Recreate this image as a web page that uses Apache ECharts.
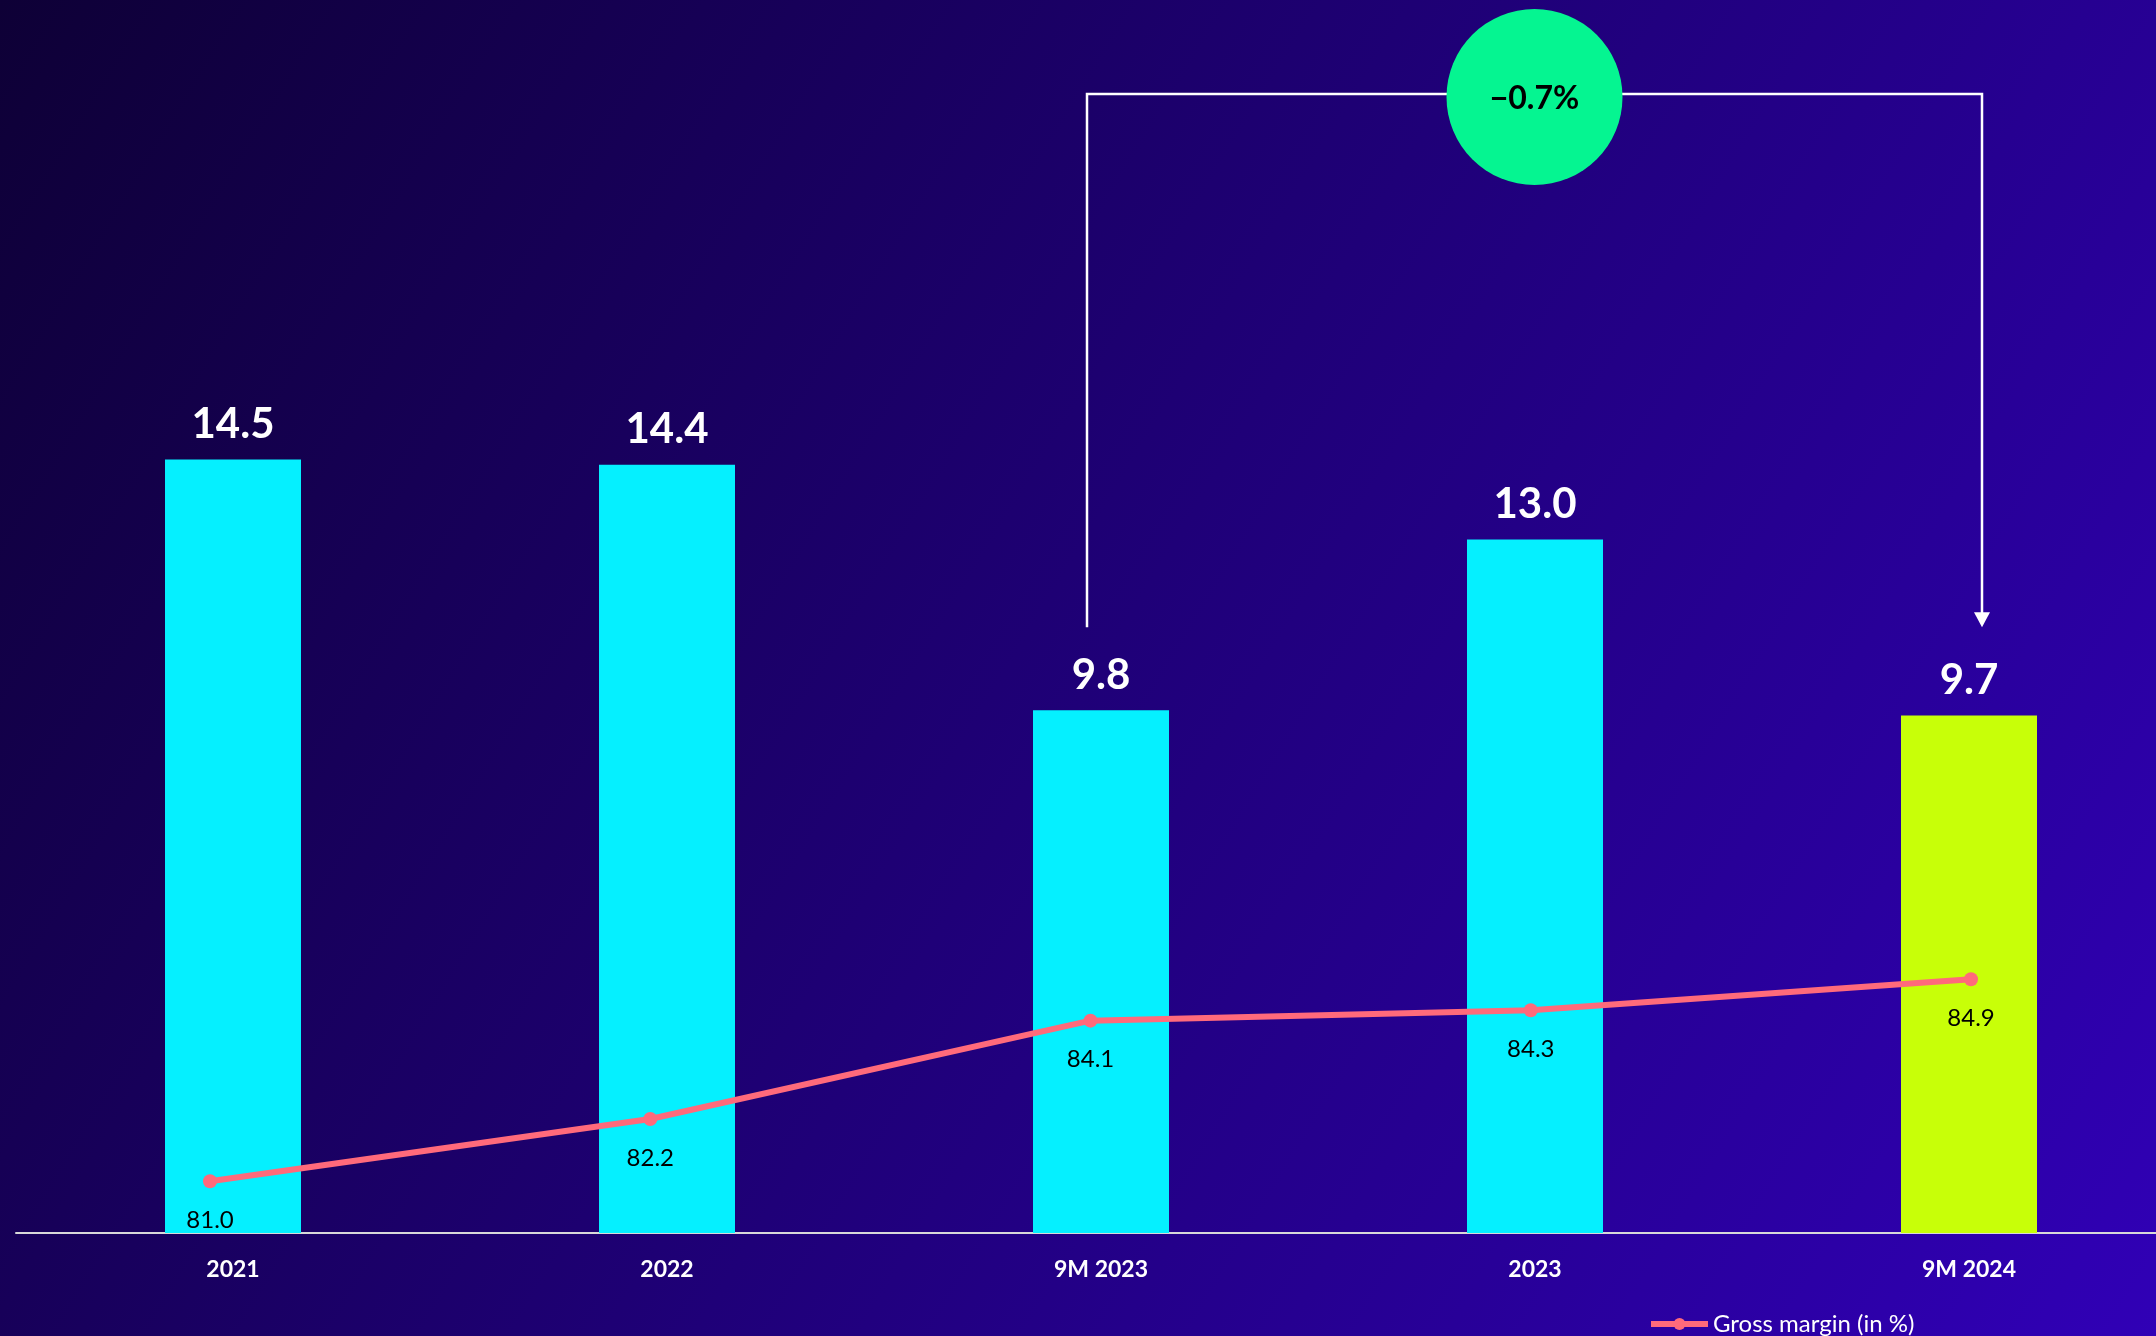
<!DOCTYPE html>
<html>
<head>
<meta charset="utf-8">
<script src="https://cdn.jsdelivr.net/npm/echarts@6/dist/echarts.min.js"></script>
<style>
  html, body { margin: 0; padding: 0; background: #17005a; overflow: hidden; }
  #chart { width: 2200px; height: 1336px; }
</style>
</head>
<body>
<div id="chart"></div>
<script>
// Periods shown on the category axis
const periods = ['2021', '2022', '9M 2023', '2023', '9M 2024'];
// Revenue per period (bars)
const revenue = [14.5, 14.4, 9.8, 13.0, 9.7];
// Gross margin in percent (line)
const grossMargin = [81.0, 82.2, 84.1, 84.3, 84.9];
// Change between the two nine-month periods
const changeLabel = '\u22120.7%';
const lineName = 'Gross margin (in %)';

const FONT = 'Lato, "Open Sans", sans-serif';
const CYAN = '#05f0ff';
const LIME = '#c8ff08';
const LINE = '#ff6a7b';
const highlightIndex = periods.length - 1;

const chart = echarts.init(document.getElementById('chart'), null, { renderer: 'canvas' });

const option = {
  backgroundColor: {
    type: 'linear', x: 0, y: 0, x2: 1, y2: 1,
    colorStops: [
      { offset: 0, color: '#0e0036' },
      { offset: 0.5, color: '#1f0078' },
      { offset: 1, color: '#3100b8' }
    ]
  },
  animation: false,
  textStyle: { fontFamily: FONT },
  grid: [
    { left: 16, top: 166, width: 2170, height: 1067, containLabel: false },
    { left: 210, top: 166, width: 1761, height: 1067, containLabel: false }
  ],
  xAxis: [
    {
      type: 'category', gridIndex: 0, data: periods, boundaryGap: true,
      axisLine: { show: true, lineStyle: { color: '#d9d9d9', width: 2 } },
      axisTick: { show: false },
      axisLabel: { color: '#ffffff', fontWeight: 'bold', fontSize: 23, margin: 25, fontFamily: FONT }
    },
    {
      type: 'category', gridIndex: 1, data: periods, boundaryGap: false,
      axisLine: { show: false }, axisTick: { show: false }, axisLabel: { show: false }
    }
  ],
  yAxis: [
    { type: 'value', gridIndex: 0, min: 0, max: 20, show: false, splitLine: { show: false } },
    { type: 'value', gridIndex: 1, min: 80, max: 100.6, show: false, splitLine: { show: false } }
  ],
  legend: {
    data: [lineName],
    left: 1643, top: 1307,
    itemWidth: 57, itemHeight: 15, itemGap: 10,
    lineStyle: { width: 6, color: LINE },
    itemStyle: { color: LINE },
    textStyle: { color: '#ffffff', fontSize: 24, fontFamily: FONT }
  },
  series: [
    {
      type: 'bar', name: 'Revenue', xAxisIndex: 0, yAxisIndex: 0,
      barWidth: 136,
      data: revenue.map((v, i) => ({
        value: v,
        itemStyle: { color: i === highlightIndex ? LIME : CYAN }
      })),
      label: {
        show: true, position: 'top', distance: 14,
        color: '#ffffff', fontWeight: 'bold', fontSize: 42, fontFamily: FONT,
        formatter: p => p.value.toFixed(1)
      },
      z: 2
    },
    {
      type: 'line', name: lineName, xAxisIndex: 1, yAxisIndex: 1,
      data: grossMargin,
      symbol: 'circle', symbolSize: 14,
      lineStyle: { color: LINE, width: 6 },
      itemStyle: { color: LINE },
      label: {
        show: true, position: 'bottom', distance: 20,
        color: '#000000', fontSize: 24, fontFamily: FONT,
        formatter: p => p.value.toFixed(1)
      },
      z: 5
    }
  ]
};

chart.setOption(option);

// Bracket from 9M 2023 to 9M 2024 with the change bubble
function drawBracket() {
  const a = 2, b = 4;
  const pa = chart.convertToPixel({ xAxisIndex: 0, yAxisIndex: 0 }, [a, revenue[a]]);
  const pb = chart.convertToPixel({ xAxisIndex: 0, yAxisIndex: 0 }, [b, revenue[b]]);
  const xL = pa[0] - 14;
  const xR = pb[0] + 13;
  const yTop = 94;
  const yBottom = Math.min(pa[1], pb[1]) - 83;
  const cx = (xL + xR) / 2;
  const stroke = { stroke: '#ffffff', lineWidth: 2.5 };
  chart.setOption({
    graphic: [
      { type: 'polyline', shape: { points: [[xL, yBottom], [xL, yTop], [xR, yTop], [xR, yBottom - 14]] }, style: stroke, z: 10 },
      { type: 'polygon', shape: { points: [[xR - 8, yBottom - 15], [xR + 8, yBottom - 15], [xR, yBottom]] }, style: { fill: '#ffffff' }, z: 10 },
      { type: 'circle', shape: { cx: cx, cy: 97, r: 88 }, style: { fill: '#05f591' }, z: 11 },
      {
        type: 'text', x: cx, y: 99, z: 12,
        style: { text: changeLabel, fill: '#000000', font: 'bold 32px ' + FONT, align: 'center', verticalAlign: 'middle' }
      }
    ]
  });
}
drawBracket();
</script>
</body>
</html>
